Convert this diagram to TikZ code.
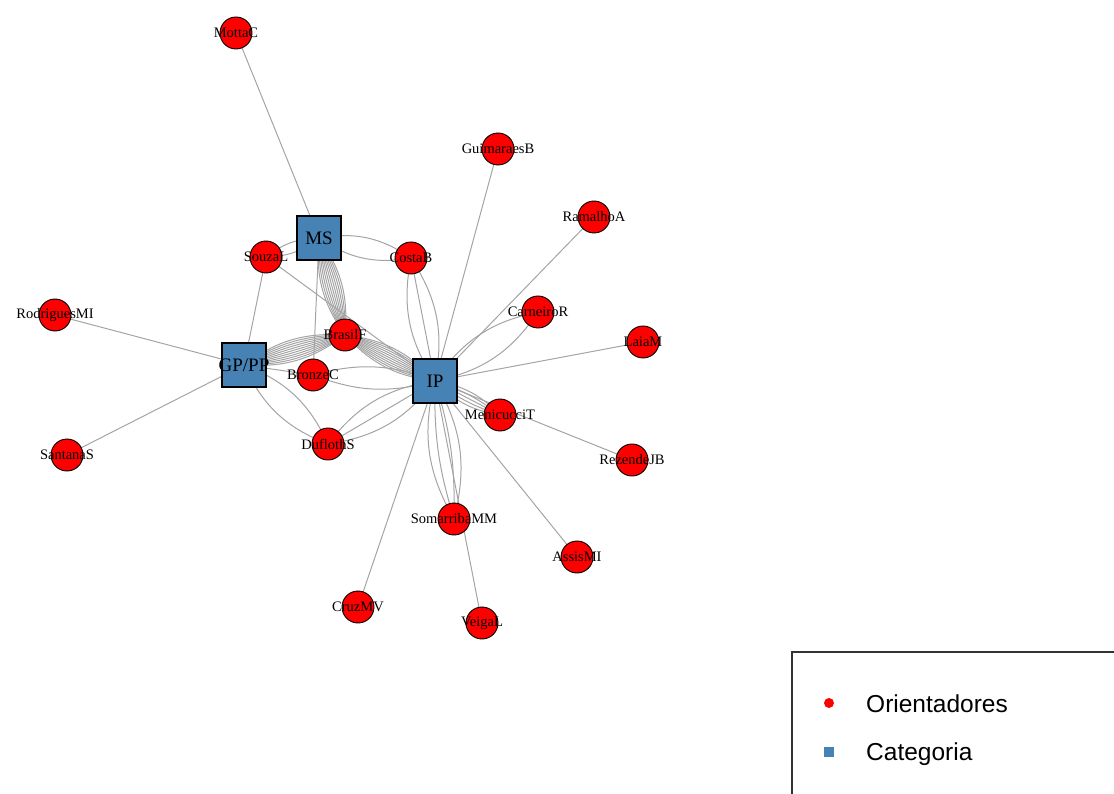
\documentclass[tikz,border=0pt]{standalone}
\usepackage{fontspec}
\setmainfont{Liberation Serif}
\newfontfamily\legfont{Liberation Sans}
\usetikzlibrary{backgrounds}
\definecolor{steelblue}{HTML}{4682B4}
\definecolor{edgegray}{HTML}{A4A4A4}
\begin{document}
\begin{tikzpicture}[x=1pt,y=-1pt,
  lab/.style={font=\fontsize{14.5}{15}\selectfont,text=black,inner sep=0pt},
  biglab/.style={font=\fontsize{19}{19}\selectfont,text=black,inner sep=0pt},
  orient/.style={circle,draw=black,fill=red,minimum size=32pt,inner sep=0pt,line width=0.9pt},
  categ/.style={rectangle,draw=black,fill=steelblue,minimum size=44pt,inner sep=0pt,line width=1.1pt},
  edge/.style={draw=edgegray,line width=1pt}]
\useasboundingbox (0,0) rectangle (1114,794);
% nodes
\node[orient,label={[lab]center:MottaC}] (motta) at (236,33) {};
\node[orient,label={[lab]center:GuimaraesB}] (guim) at (498,149) {};
\node[orient,label={[lab]center:RamalhoA}] (ramal) at (594,217) {};
\node[categ,label={[biglab]center:MS}] (ms) at (319,238) {};
\node[orient,label={[lab]center:SouzaL}] (souza) at (266,257) {};
\node[orient,label={[lab]center:CostaB}] (costa) at (411,258) {};
\node[orient,label={[lab]center:CarneiroR}] (carn) at (538,312) {};
\node[orient,label={[lab]center:RodriguesMI}] (rod) at (55,315) {};
\node[orient,label={[lab]center:LaiaM}] (laia) at (643,342) {};
\node[orient,label={[lab]center:BrasilF}] (bras) at (345,335) {};
\node[categ,label={[biglab]center:GP/PP}] (gp) at (244,365) {};
\node[orient,label={[lab]center:BronzeC}] (bronze) at (313,375) {};
\node[categ,label={[biglab]center:IP}] (ip) at (435,381) {};
\node[orient,label={[lab]center:MenicucciT}] (meni) at (500,415) {};
\node[orient,label={[lab]center:DuflothS}] (dufl) at (328,444) {};
\node[orient,label={[lab]center:SantanaS}] (sant) at (67,455) {};
\node[orient,label={[lab]center:RezendeJB}] (rez) at (632,460) {};
\node[orient,label={[lab]center:SomarribaMM}] (soma) at (454,519) {};
\node[orient,label={[lab]center:AssisMI}] (assis) at (577,557) {};
\node[orient,label={[lab]center:CruzMV}] (cruz) at (358,607) {};
\node[orient,label={[lab]center:VeigaL}] (veiga) at (482,623) {};
% edges
\begin{scope}[on background layer]
\draw[edge] (motta.center) -- (ms.center);
\draw[edge] (guim.center) -- (ip.center);
\draw[edge] (ramal.center) -- (ip.center);
\draw[edge] (laia.center) -- (ip.center);
\draw[edge] (rez.center) -- (ip.center);
\draw[edge] (assis.center) -- (ip.center);
\draw[edge] (cruz.center) -- (ip.center);
\draw[edge] (veiga.center) -- (ip.center);
\draw[edge] (rod.center) -- (gp.center);
\draw[edge] (sant.center) -- (gp.center);
\draw[edge] (souza.center) -- (gp.center);
\draw[edge] (souza.center) -- (ip.center);
\draw[edge] (ms.center) -- (bronze.center);
\draw[edge] (gp.center) -- (bronze.center);
\foreach \b in {-18,18} \draw[edge] (souza.center) to[bend left=\b] (ms.center);
\foreach \b in {-22,22} \draw[edge] (ms.center) to[bend left=\b] (costa.center);
\foreach \b in {-22,0,22} \draw[edge] (costa.center) to[bend left=\b] (ip.center);
\foreach \b in {-22,22} \draw[edge] (carn.center) to[bend left=\b] (ip.center);
\foreach \b in {-18,-9,0,9,18} \draw[edge] (ip.center) to[bend left=\b] (meni.center);
\foreach \b in {-22,-9,9,22} \draw[edge] (ip.center) to[bend left=\b] (soma.center);
\foreach \b in {-22,0,22} \draw[edge] (ip.center) to[bend left=\b] (dufl.center);
\foreach \b in {-22,22} \draw[edge] (gp.center) to[bend left=\b] (dufl.center);
\foreach \b in {-18,18} \draw[edge] (bronze.center) to[bend left=\b] (ip.center);
\foreach \b in {-20,-16,...,20} \draw[edge] (ms.center) to[bend left=\b] (bras.center);
\foreach \b in {-20,-16,...,20} \draw[edge] (gp.center) to[bend left=\b] (bras.center);
\foreach \b in {-20,-16,...,20} \draw[edge] (bras.center) to[bend left=\b] (ip.center);
\end{scope}
% legend
\draw[line width=1.2pt,draw=black!80] (1114,652) -- (792,652) -- (792,794);
\node[circle,fill=red,minimum size=10pt,inner sep=0pt] (legr) at (829,703) {};
\node[rectangle,fill=steelblue,minimum size=10pt,inner sep=0pt] (legb) at (829,752) {};
\node[anchor=west,font=\legfont\fontsize{24.5}{25}\selectfont,inner sep=0pt] (legt1) at (866,704) {Orientadores};
\node[anchor=west,font=\legfont\fontsize{24.5}{25}\selectfont,inner sep=0pt] (legt2) at (866,754) {Categoria};
\end{tikzpicture}
\end{document}
